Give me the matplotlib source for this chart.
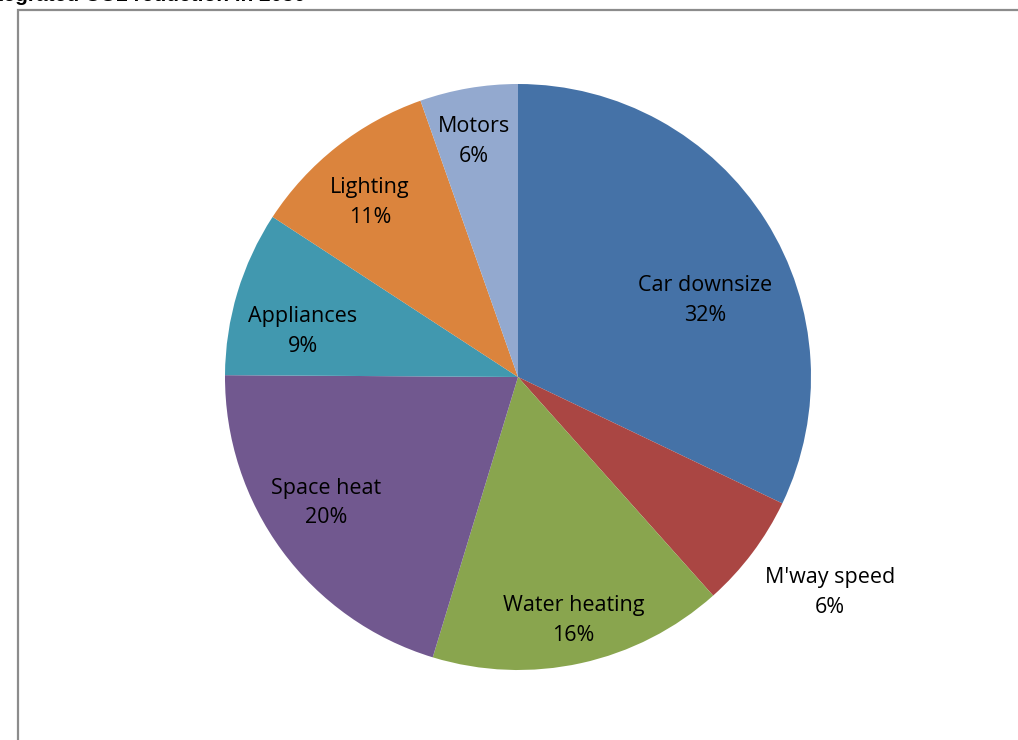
import matplotlib.pyplot as plt
from matplotlib.patches import Rectangle

categories = ["Car downsize", "M'way speed", "Water heating", "Space heat",
              "Appliances", "Lighting", "Motors"]
shares = [32.1, 6.3, 16.3, 20.4, 9.1, 10.4, 5.4]
pct_labels = ["32%", "6%", "16%", "20%", "9%", "11%", "6%"]
colors = ["#4572A7", "#AA4643", "#89A54E", "#71588F", "#4198AF", "#DB843D", "#93A9CF"]
# label anchor points, in units of the pie radius
label_pos = [(0.64, 0.26), (1.065, -0.735), (0.19, -0.83), (-0.655, -0.43),
             (-0.735, 0.155), (-0.505, 0.595), (-0.15, 0.805)]

title = "Integrated CO2 reduction in 2050"

W, H = 1018, 740
fig = plt.figure(figsize=(W / 100, H / 100), dpi=100)

# grey chart frame, runs off the right and bottom edges
fig.patches.append(Rectangle((18 / W, -0.1), 1.2, (H - 10) / H + 0.1,
                             transform=fig.transFigure, fill=False,
                             edgecolor="#8c8c8c", linewidth=1.6))

# heading is cut off by the top edge in the original
fig.text(-22 / W, (H - 1) / H, title, fontsize=15, fontweight="bold",
         family="Liberation Sans", ha="left", va="baseline")

cx, cy, r = 518, 377, 293
ax = fig.add_axes([(cx - r) / W, (H - cy - r) / H, 2 * r / W, 2 * r / H])
ax.pie(shares, colors=colors, startangle=90, counterclock=False, radius=1,
       wedgeprops=dict(linewidth=0))
ax.set_xlim(-1, 1)
ax.set_ylim(-1, 1)
ax.set_aspect("equal")
ax.axis("off")

for name, pct, (x, y) in zip(categories, pct_labels, label_pos):
    ax.text(x, y, f"{name}\n{pct}", ha="center", va="center", fontsize=15.5,
            family="Open Sans", linespacing=1.55, color="black")

fig.savefig("out.png", dpi=100)
